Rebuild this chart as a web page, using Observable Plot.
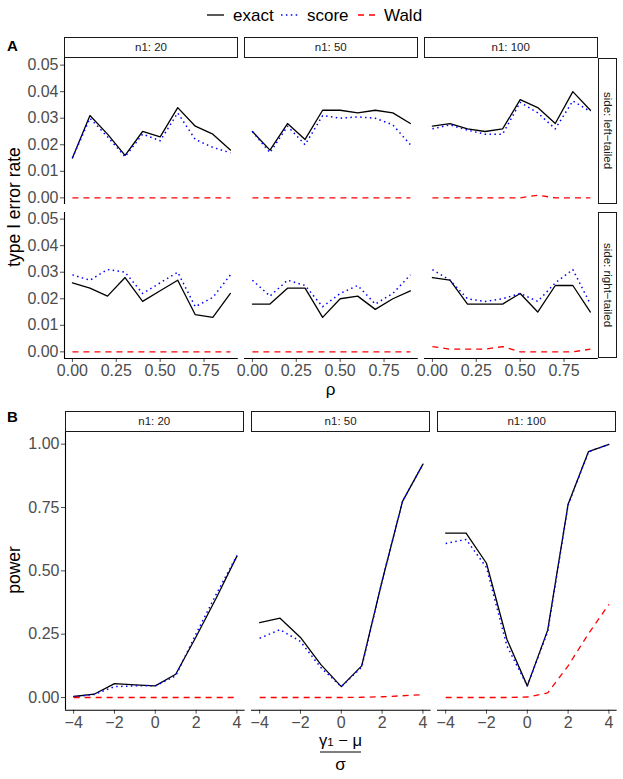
<!DOCTYPE html>
<html><head><meta charset="utf-8">
<script src="https://cdn.jsdelivr.net/npm/d3@7"></script>
<script src="https://cdn.jsdelivr.net/npm/@observablehq/plot@0.6"></script>
<style>
body{margin:0;background:#fff;font-family:"Liberation Sans",Arial,sans-serif;}
#root{position:relative;width:623px;height:779px;overflow:hidden;background:#fff;}
.strip{position:absolute;box-sizing:border-box;border:1.4px solid #1a1a1a;background:#fff;font-size:11.5px;color:#1a1a1a;display:flex;align-items:center;justify-content:center;white-space:nowrap;}
.vstrip{writing-mode:vertical-rl;}
</style></head><body><div id="root"></div>
<script>
// ---------- data ----------
const rho = [0, 0.1, 0.2, 0.3, 0.4, 0.5, 0.6, 0.7, 0.8, 0.9];
const n1Levels = [20, 50, 100];
const sideLevels = ["left\u2212tailed", "right\u2212tailed"];
const methods = ["exact", "score", "Wald"];
const rhoTicks = [0, 0.25, 0.5, 0.75];
const typeITicks = [0, 0.01, 0.02, 0.03, 0.04, 0.05];

const left_exact_n20  = [0.015, 0.031, 0.024, 0.016, 0.025, 0.023, 0.034, 0.027, 0.024, 0.018];
const left_score_n20  = [0.015, 0.030, 0.023, 0.0155, 0.024, 0.0215, 0.032, 0.022, 0.019, 0.017];
const left_wald_n20   = [0, 0, 0, 0, 0, 0, 0, 0, 0, 0];
const left_exact_n50  = [0.025, 0.018, 0.028, 0.022, 0.033, 0.033, 0.032, 0.033, 0.032, 0.028];
const left_score_n50  = [0.025, 0.017, 0.027, 0.020, 0.031, 0.030, 0.0305, 0.030, 0.0275, 0.020];
const left_wald_n50   = [0, 0, 0, 0, 0, 0, 0, 0, 0, 0];
const left_exact_n100 = [0.027, 0.028, 0.026, 0.025, 0.026, 0.037, 0.034, 0.028, 0.040, 0.033];
const left_score_n100 = [0.026, 0.0275, 0.0255, 0.024, 0.024, 0.036, 0.032, 0.026, 0.0365, 0.0325];
const left_wald_n100  = [0, 0, 0, 0, 0, 0, 0.001, 0, 0, 0];

const right_exact_n20  = [0.026, 0.024, 0.021, 0.028, 0.019, 0.023, 0.027, 0.014, 0.013, 0.022];
const right_score_n20  = [0.029, 0.027, 0.031, 0.030, 0.022, 0.026, 0.030, 0.017, 0.0205, 0.029];
const right_wald_n20   = [0, 0, 0, 0, 0, 0, 0, 0, 0, 0];
const right_exact_n50  = [0.018, 0.018, 0.024, 0.024, 0.013, 0.020, 0.021, 0.016, 0.020, 0.023];
const right_score_n50  = [0.027, 0.021, 0.027, 0.025, 0.017, 0.022, 0.025, 0.018, 0.022, 0.029];
const right_wald_n50   = [0, 0, 0, 0, 0, 0, 0, 0, 0, 0];
const right_exact_n100 = [0.028, 0.027, 0.018, 0.018, 0.018, 0.022, 0.015, 0.025, 0.025, 0.015];
const right_score_n100 = [0.031, 0.027, 0.020, 0.019, 0.020, 0.022, 0.019, 0.026, 0.031, 0.018];
const right_wald_n100  = [0.002, 0.001, 0.001, 0.001, 0.002, 0, 0, 0, 0, 0.001];

const delta = [-4, -3, -2, -1, 0, 1, 2, 3, 4];
const deltaTicks = [-4, -2, 0, 2, 4];
const powerTicks = [0, 0.25, 0.5, 0.75, 1];
const power_exact_n20  = [0.004, 0.013, 0.055, 0.050, 0.046, 0.092, 0.240, 0.395, 0.558];
const power_score_n20  = [0.003, 0.012, 0.043, 0.046, 0.046, 0.085, 0.252, 0.410, 0.560];
const power_wald_n20   = [0, 0, 0, 0, 0, 0, 0, 0, 0];
const power_exact_n50  = [0.296, 0.313, 0.237, 0.130, 0.043, 0.125, 0.460, 0.774, 0.921];
const power_score_n50  = [0.234, 0.268, 0.221, 0.118, 0.043, 0.120, 0.460, 0.774, 0.921];
const power_wald_n50   = [0, 0, 0, 0, 0, 0.001, 0.003, 0.007, 0.011];
const power_exact_n100 = [0.649, 0.649, 0.530, 0.230, 0.046, 0.266, 0.763, 0.971, 0.999];
const power_score_n100 = [0.608, 0.624, 0.513, 0.204, 0.046, 0.260, 0.760, 0.970, 0.999];
const power_wald_n100  = [0, 0, 0, 0, 0.002, 0.018, 0.125, 0.252, 0.368];

// ---------- styles ----------
const methodStyle = {
  exact: {stroke: "#000000", strokeWidth: 1.3},
  score: {stroke: "#0000FF", strokeWidth: 1.5, strokeDasharray: "1.5,3.4", strokeLinecap: "butt"},
  Wald:  {stroke: "#FF0000", strokeWidth: 1.3, strokeDasharray: "6,5", strokeLinecap: "butt"}
};
const FONT = '"Liberation Sans", Arial, sans-serif';
const root = document.getElementById("root");
const fmt2 = d3.format(".2f");

function panel(o) {
  const ML = o.showY ? 64 : 16, MR = 16, MT = 4, MB = o.showX ? 30 : 4;
  const marks = [];
  if (o.showY) {
    marks.push(Plot.axisY({ticks: o.yTicks, tickFormat: fmt2, tickSize: 4, tickPadding: 2, fontSize: 16, color: "#4d4d4d"}));
    marks.push(Plot.ruleX([o.xDomain[0]], {stroke: "#000", strokeWidth: 1.1}));
  }
  if (o.showX) {
    marks.push(Plot.axisX({ticks: o.xTicks, tickFormat: o.xFmt, tickSize: 4, tickPadding: 2, fontSize: 16, color: "#4d4d4d"}));
    marks.push(Plot.ruleY([o.yDomain[0]], {stroke: "#000", strokeWidth: 1.1}));
  }
  methods.forEach((m, k) => {
    const ys = o.series[k];
    marks.push(Plot.line(ys.map((v, i) => [o.xs[i], v]), methodStyle[m]));
  });
  const svg = Plot.plot({
    width: ML + o.w + MR, height: MT + o.h + MB,
    marginLeft: ML, marginRight: MR, marginTop: MT, marginBottom: MB,
    x: {domain: o.xDomain, axis: null},
    y: {domain: o.yDomain, axis: null},
    style: {background: "transparent", overflow: "visible", fontFamily: FONT, color: "#4d4d4d", maxWidth: "none"},
    marks
  });
  svg.style.position = "absolute";
  svg.style.left = (o.left - ML) + "px";
  svg.style.top = (o.top - MT) + "px";
  root.appendChild(svg);
}

function strip(text, left, top, w, h, vertical) {
  const d = document.createElement("div");
  d.className = "strip" + (vertical ? " vstrip" : "");
  d.style.left = left + "px"; d.style.top = top + "px";
  d.style.width = w + "px"; d.style.height = h + "px";
  d.textContent = text;
  root.appendChild(d);
}

// ---------- Panel A ----------
const aLefts = [64.1, 243.9, 423.8], aW = 173.8;
const aTops = [58, 211.6], aH = 146;
const aSeries = [
  [[left_exact_n20, left_score_n20, left_wald_n20], [left_exact_n50, left_score_n50, left_wald_n50], [left_exact_n100, left_score_n100, left_wald_n100]],
  [[right_exact_n20, right_score_n20, right_wald_n20], [right_exact_n50, right_score_n50, right_wald_n50], [right_exact_n100, right_score_n100, right_wald_n100]]
];
for (let r = 0; r < 2; r++) {
  for (let c = 0; c < 3; c++) {
    panel({
      xs: rho, series: aSeries[r][c],
      xDomain: [-0.045, 0.945], yDomain: [-0.0025, 0.0525],
      left: aLefts[c], top: aTops[r], w: aW, h: aH,
      showY: c === 0, showX: r === 1,
      xTicks: rhoTicks, yTicks: typeITicks, xFmt: fmt2
    });
  }
  strip("side: " + sideLevels[r], 597.8, aTops[r], 19.5, aH, true);
}
n1Levels.forEach((n, c) => strip("n1: " + n, aLefts[c], 37, aW, 20.5, false));

// ---------- Panel B ----------
const bLefts = [64.5, 250.8, 436.8], bW = 179.6, bTop = 430.7, bH = 278.7;
const bSeries = [
  [power_exact_n20, power_score_n20, power_wald_n20],
  [power_exact_n50, power_score_n50, power_wald_n50],
  [power_exact_n100, power_score_n100, power_wald_n100]
];
for (let c = 0; c < 3; c++) {
  panel({
    xs: delta, series: bSeries[c],
    xDomain: [-4.4, 4.4], yDomain: [-0.05, 1.05],
    left: bLefts[c], top: bTop, w: bW, h: bH,
    showY: c === 0, showX: true,
    xTicks: deltaTicks, yTicks: powerTicks, xFmt: d3.format("d")
  });
  strip("n1: " + n1Levels[c], bLefts[c], 411, bW, 20.5, false);
}

// ---------- titles, legend, tags ----------
const ns = "http://www.w3.org/2000/svg";
const ov = document.createElementNS(ns, "svg");
ov.setAttribute("width", 623); ov.setAttribute("height", 779);
ov.style.cssText = "position:absolute;left:0;top:0;overflow:visible;pointer-events:none;";
ov.setAttribute("font-family", FONT);
root.appendChild(ov);
function txt(x, y, s, opts = {}) {
  const t = document.createElementNS(ns, "text");
  t.setAttribute("x", x); t.setAttribute("y", y);
  t.setAttribute("font-size", opts.size || 17.5);
  t.setAttribute("fill", opts.fill || "#000");
  t.setAttribute("text-anchor", opts.anchor || "middle");
  t.setAttribute("dominant-baseline", "central");
  if (opts.weight) t.setAttribute("font-weight", opts.weight);
  if (opts.rotate) t.setAttribute("transform", `rotate(${opts.rotate},${x},${y})`);
  t.textContent = s;
  ov.appendChild(t);
  return t;
}
function seg(x1, y1, x2, y2, st) {
  const l = document.createElementNS(ns, "line");
  l.setAttribute("x1", x1); l.setAttribute("y1", y1); l.setAttribute("x2", x2); l.setAttribute("y2", y2);
  l.setAttribute("stroke", st.stroke); l.setAttribute("stroke-width", st.strokeWidth);
  if (st.strokeDasharray) l.setAttribute("stroke-dasharray", st.strokeDasharray);
  ov.appendChild(l);
}
// legend
const legX = [{m: "exact", x: 207}, {m: "score", x: 281}, {m: "Wald", x: 358}];
legX.forEach(({m, x}) => {
  seg(x, 15, x + 17, 15, methodStyle[m]);
  txt(x + 26, 15.5, m, {anchor: "start", size: 17});
});
// tags
txt(7, 45, "A", {anchor: "start", size: 15, weight: "bold"});
txt(7, 416, "B", {anchor: "start", size: 15, weight: "bold"});
// axis titles
txt(14, 207, "type I error rate", {rotate: -90});
txt(330.5, 389, "\u03C1", {size: 17});
txt(14, 570, "power", {rotate: -90});
// fraction (gamma_1 - mu) / sigma
const num = txt(340.5, 739.5, "", {size: 16.5});
const t1 = document.createElementNS(ns, "tspan"); t1.textContent = "\u03B3"; num.appendChild(t1);
const t2 = document.createElementNS(ns, "tspan"); t2.textContent = "1"; t2.setAttribute("font-size", 11.5); t2.setAttribute("dy", 2.5); num.appendChild(t2);
const t3 = document.createElementNS(ns, "tspan"); t3.textContent = " \u2212 \u03BC"; t3.setAttribute("dy", -2.5); num.appendChild(t3);
seg(320, 752, 361, 752, {stroke: "#000", strokeWidth: 1});
txt(340.5, 764, "\u03C3", {size: 17});
</script></body></html>
